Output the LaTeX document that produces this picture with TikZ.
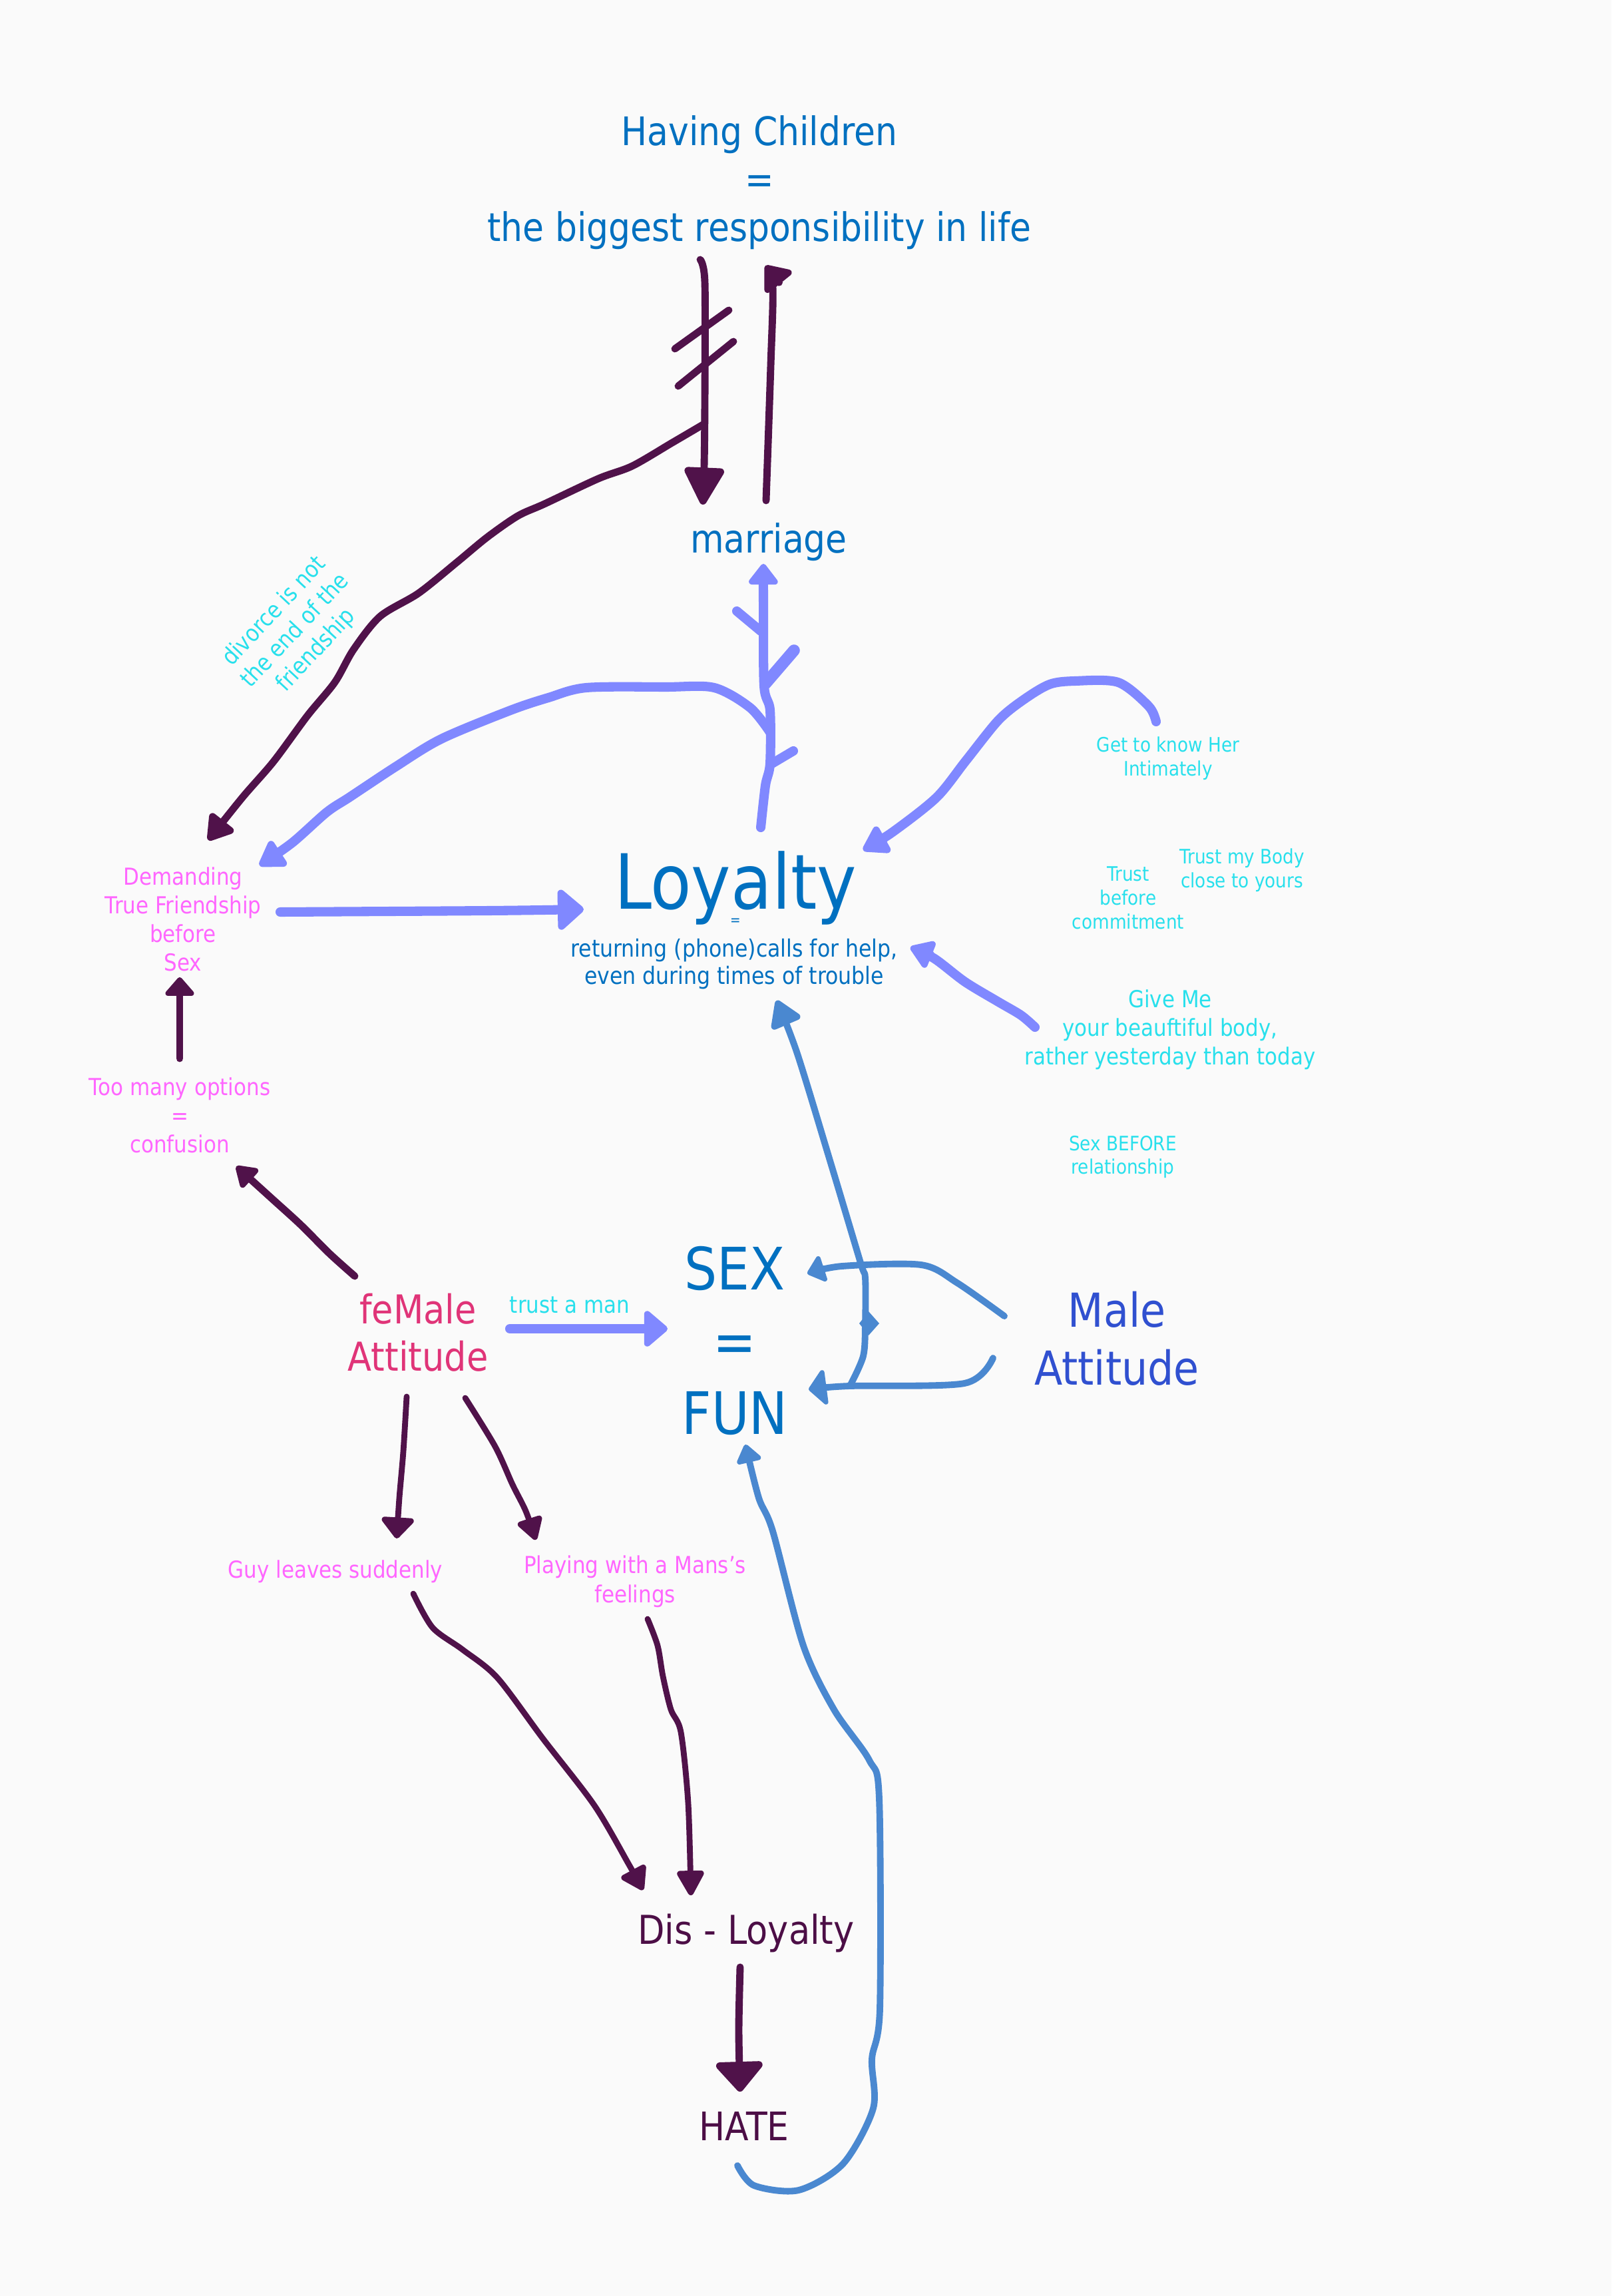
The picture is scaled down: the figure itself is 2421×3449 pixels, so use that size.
\documentclass[tikz,border=0pt]{standalone}
\usepackage{fontspec}
\setmainfont{DejaVu Sans}[FakeStretch=0.88]
\usetikzlibrary{arrows.meta}
\definecolor{bg}{RGB}{250,250,250}
\definecolor{tblue}{RGB}{0,112,192}
\definecolor{tpink}{RGB}{255,102,255}
\definecolor{tcyan}{RGB}{40,224,236}
\definecolor{tfem}{RGB}{224,52,120}
\definecolor{tmale}{RGB}{48,80,208}
\definecolor{tpur}{RGB}{76,14,70}
\definecolor{spur}{RGB}{80,18,74}
\definecolor{slav}{RGB}{128,136,255}
\definecolor{ssteel}{RGB}{74,136,208}
\begin{document}
\begin{tikzpicture}[x=0.01cm,y=-0.01cm,inner sep=0pt,outer sep=0pt,
  lbl/.style={align=center},
  pur/.style={draw=spur,line width=3.1pt,line cap=round,line join=round},
  purthin/.style={pur,line width=2.5pt},
  lav/.style={draw=slav,line width=4pt,line cap=round,line join=round},
  stl/.style={draw=ssteel,line width=2.8pt,line cap=round,line join=round},
  cyansmall/.style={lbl,text=tcyan,font=\fontsize{8.5pt}{10.2pt}\selectfont},
  cyanmid/.style={lbl,text=tcyan,font=\fontsize{10pt}{12.2pt}\selectfont},
  pinkmid/.style={lbl,text=tpink,font=\fontsize{10pt}{12.2pt}\selectfont}]
\fill[bg] (0,0) rectangle (2421,3449);
\useasboundingbox (0,0) rectangle (2421,3449);

% ---------------- text nodes ----------------
\node[lbl,text=tblue,font=\fontsize{16.8pt}{20.5pt}\selectfont] (hc) at (1141,274)
  {Having Children\\=\\the biggest responsibility in life};
\node[text=tblue,font=\fontsize{16.8pt}{20pt}\selectfont,anchor=base] (marr) at (1155,830) {marriage};
\node[text=tblue,font=\fontsize{32.5pt}{36pt}\selectfont,anchor=base] (loy) at (1105,1365) {Loyalty};
\node[text=tblue,font=\fontsize{6pt}{7pt}\selectfont] (loyeq) at (1105,1385) {=};
\node[lbl,text=tblue,font=\fontsize{10.2pt}{11.7pt}\selectfont] (ret) at (1103,1448)
  {returning (phone)calls for help,\\even during times of trouble};
\node[pinkmid] (dem) at (275,1381) {Demanding\\True Friendship\\before\\Sex};
\node[pinkmid] (too) at (270,1675) {Too many options\\=\\confusion};
\node[cyanmid,rotate=47] (div) at (444,948) {divorce is not\\the end of the\\friendship};
\node[cyansmall] (gtk) at (1755,1139) {Get to know Her\\Intimately};
\node[cyansmall] (tbc) at (1695,1349) {Trust\\before\\commitment};
\node[cyansmall] (tmb) at (1866,1307) {Trust my Body\\close to yours};
\node[cyanmid] (gme) at (1758,1547) {Give Me\\your beauftiful body,\\rather yesterday than today};
\node[cyansmall] (sbr) at (1687,1738) {Sex BEFORE\\relationship};
\node[lbl,text=tblue,font=\fontsize{25pt}{30.9pt}\selectfont] (sex) at (1104,2014) {SEX\\=\\FUN};
\node[lbl,text=tfem,font=\fontsize{17pt}{20.2pt}\selectfont] (fem) at (628,2002) {feMale\\Attitude};
\node[text=tcyan,font=\fontsize{10pt}{12pt}\selectfont,anchor=base] (tam) at (856,1972) {trust a man};
\node[lbl,text=tmale,font=\fontsize{20pt}{24.7pt}\selectfont] (male) at (1678,2011) {Male\\Attitude};
\node[text=tpink,font=\fontsize{10pt}{12pt}\selectfont,anchor=base] (guy) at (504,2370) {Guy leaves suddenly};
\node[lbl,text=tpink,font=\fontsize{10pt}{12.5pt}\selectfont] (play) at (954,2376) {Playing with a Mans’s\\feelings};
\node[text=tpur,font=\fontsize{17pt}{20pt}\selectfont,anchor=base] (dis) at (1121,2920) {Dis - Loyalty};
\node[text=tpur,font=\fontsize{16.8pt}{20pt}\selectfont,anchor=base] (hate) at (1118,3215) {HATE};

% ---------------- connector end points ----------------
\coordinate (p1a) at (1052,390);  \coordinate (p1b) at (1056,758);
\coordinate (p2a) at (1151,752);  \coordinate (p2b) at (1150,399);
\coordinate (p3a) at (1056,638);  \coordinate (p3b) at (313,1262);
\coordinate (p4a) at (270,1590);  \coordinate (p4b) at (270,1468);
\coordinate (p5a) at (533,1917);  \coordinate (p5b) at (355,1752);
\coordinate (p6a) at (611,2098);  \coordinate (p6b) at (596,2311);
\coordinate (p7a) at (699,2100);  \coordinate (p7b) at (805,2313);
\coordinate (p8a) at (621,2394);  \coordinate (p8b) at (966,2839);
\coordinate (p9a) at (973,2432);  \coordinate (p9b) at (1038,2847);
\coordinate (p10a) at (1112,2955); \coordinate (p10b) at (1112,3142);
\coordinate (l1a) at (1143,1243); \coordinate (l1b) at (1147,847);
\coordinate (l2a) at (1157,1100); \coordinate (l2b) at (390,1300);
\coordinate (l3a) at (421,1370);  \coordinate (l3b) at (877,1366);
\coordinate (l4a) at (1737,1084); \coordinate (l4b) at (1297,1277);
\coordinate (l5a) at (1555,1543); \coordinate (l5b) at (1368,1423);
\coordinate (l6a) at (766,1996);  \coordinate (l6b) at (1003,1996);
\coordinate (s1a) at (1509,1977); \coordinate (s1b) at (1213,1913);
\coordinate (s2a) at (1492,2040); \coordinate (s2b) at (1215,2087);
\coordinate (s3a) at (1278,2080); \coordinate (s3b) at (1167,1503);
\coordinate (s4a) at (1108,3253); \coordinate (s4b) at (1120,2170);

% ---------------- purple strokes ----------------
\draw[pur,-{Triangle[length=0.62cm,width=0.64cm,round]}]
  plot[smooth,tension=0.5] coordinates {(p1a) (1059,424) (1059,600) (1058,700) (p1b)};
\draw[pur] (1014,524) -- (1095,466);
\draw[pur] (1019,580) -- (1102,513);
\draw[pur,-{Triangle[length=0.38cm,width=0.58cm,round]}]
  plot[smooth,tension=0.5] coordinates {(p2a) (1158,549) (1161,432) (p2b)};
\draw[pur,-{Triangle[length=0.42cm,width=0.5cm,round]}]
  plot[smooth,tension=0.5] coordinates {(p3a) (1010,665) (950,700) (899,719) (818,757) (778,775)
   (732,807) (686,845) (629,891) (571,926) (531,976) (503,1025) (462,1075) (411,1144) (365,1197) (p3b)};
\draw[pur,-{Triangle[length=0.3cm,width=0.5cm,round]}] (p4a) -- (p4b);
\draw[pur,-{Triangle[length=0.34cm,width=0.42cm,round]}]
  plot[smooth,tension=0.5] coordinates {(p5a) (495,1883) (452,1840) (408,1800) (p5b)};
\draw[purthin,-{Triangle[length=0.34cm,width=0.56cm,round]}]
  plot[smooth,tension=0.5] coordinates {(p6a) (606,2180) (600,2250) (p6b)};
\draw[purthin,-{Triangle[length=0.38cm,width=0.42cm,round]}]
  plot[smooth,tension=0.5] coordinates {(p7a) (744,2173) (770,2230) (790,2270) (p7b)};
\draw[purthin,-{Triangle[length=0.38cm,width=0.46cm,round]}]
  plot[smooth,tension=0.5] coordinates {(p8a) (650,2445) (695,2478) (747,2520) (816,2612) (893,2712) (945,2801) (p8b)};
\draw[purthin,-{Triangle[length=0.42cm,width=0.44cm,round]}]
  plot[smooth,tension=0.5] coordinates {(p9a) (988,2472) (996,2518) (1008,2568) (1023,2602) (1034,2709) (p9b)};
\draw[pur,-{Triangle[length=0.48cm,width=0.8cm,round]}]
  plot[smooth,tension=0.5] coordinates {(p10a) (1110,3050) (p10b)};

% ---------------- lavender strokes ----------------
\draw[lav,-{Triangle[length=0.34cm,width=0.5cm,round]}]
  plot[smooth,tension=0.5] coordinates {(l1a) (1150,1180) (1157,1147) (1157,1067) (1148,1030) (1147,900) (l1b)};
\draw[lav] (1107,918) -- (1143,948);
\draw[lav,line width=5pt] (1193,977) -- (1150,1027);
\draw[lav] (1192,1128) -- (1160,1147);
\draw[lav,-{Triangle[length=0.42cm,width=0.5cm,round]}]
  plot[smooth,tension=0.5] coordinates {(l2a) (1127,1063) (1073,1033) (1000,1032) (881,1033)
   (824,1048) (767,1067) (663,1110) (594,1152) (526,1197) (491,1220) (439,1266) (l2b)};
\draw[lav,-{Triangle[length=0.42cm,width=0.7cm,round]}]
  plot[smooth,tension=0.5] coordinates {(l3a) (734,1368) (l3b)};
\draw[lav,-{Triangle[length=0.42cm,width=0.5cm,round]}]
  plot[smooth,tension=0.5] coordinates {(l4a) (1726,1061) (1680,1025) (1615,1023) (1577,1028)
   (1538,1051) (1500,1082) (1451,1143) (1407,1198) (1341,1250) (l4b)};
\draw[lav,-{Triangle[length=0.38cm,width=0.48cm,round]}]
  plot[smooth,tension=0.5] coordinates {(l5a) (1534,1525) (1500,1505) (1450,1475) (1404,1440) (l5b)};
\draw[lav,-{Triangle[length=0.38cm,width=0.62cm,round]}] (l6a) -- (l6b);

% ---------------- steel blue strokes ----------------
\draw[stl,-{Triangle[length=0.28cm,width=0.46cm,round]}]
  plot[smooth,tension=0.5] coordinates {(s1a) (1438,1927) (1384,1900) (1265,1902) (s1b)};
\draw[stl,-{Triangle[length=0.28cm,width=0.62cm,round]}]
  plot[smooth,tension=0.5] coordinates {(s2a) (1449,2078) (1276,2082) (s2b)};
\draw[stl,-{Triangle[length=0.44cm,width=0.52cm,round]}]
  plot[smooth,tension=0.5] coordinates {(s3a) (1297,2037) (1300,1990) (1300,1920) (1293,1897)
   (1249,1750) (1198,1583) (s3b)};
\fill[ssteel] (1305,1970) -- (1321,1988) -- (1305,2006) -- (1291,1988) -- cycle;
\draw[stl,-{Triangle[length=0.3cm,width=0.42cm,round]}]
  plot[smooth,tension=0.5] coordinates {(s4a) (1133,3283) (1200,3290) (1267,3250) (1312,3167)
   (1310,3093) (1322,3017) (1321,2702) (1306,2644) (1253,2568) (1207,2472) (1161,2300) (1140,2250) (s4b)};
\end{tikzpicture}
\end{document}
